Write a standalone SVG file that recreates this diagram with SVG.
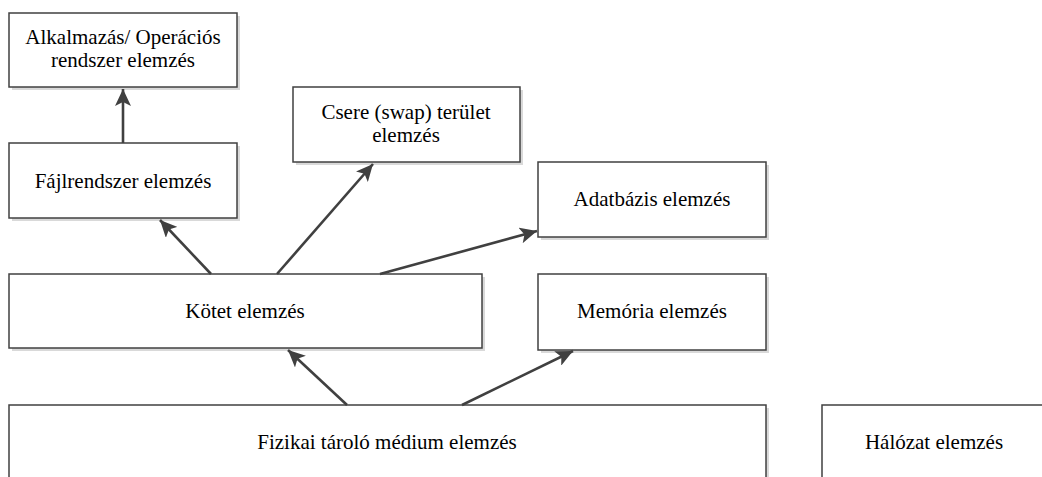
<svg xmlns="http://www.w3.org/2000/svg" width="1042" height="477" viewBox="0 0 1042 477">
  <style>
    .box { fill: #ffffff; stroke: #404040; stroke-width: 1.5; }
    .shadow { fill: #d9d9d9; }
    .label { font-family: "Liberation Serif", "Times New Roman", serif; font-size: 21px; fill: #000000; text-anchor: middle; }
    .link { stroke: #404040; stroke-width: 2.6; fill: none; marker-end: url(#head); }
  </style>
  <defs>
    <marker id="head" markerUnits="userSpaceOnUse" markerWidth="18" markerHeight="16" refX="17" refY="8" orient="auto">
      <path d="M0,0 L17,8 L0,16 L4,8 z" fill="#404040"/>
    </marker>
  </defs>
  <rect width="1042" height="477" fill="#ffffff"/>

  <g id="app-os">
    <rect class="shadow" x="12" y="16" width="228" height="74"/>
    <rect class="box" x="9" y="13" width="228" height="74"/>
    <text class="label" x="123" y="44">Alkalmazás/ Operációs</text>
    <text class="label" x="123" y="67">rendszer elemzés</text>
  </g>

  <g id="filesystem">
    <rect class="shadow" x="12" y="146" width="228" height="75"/>
    <rect class="box" x="9" y="143" width="228" height="75"/>
    <text class="label" x="123" y="188">Fájlrendszer elemzés</text>
  </g>

  <g id="swap">
    <rect class="shadow" x="296" y="90" width="227" height="75"/>
    <rect class="box" x="293" y="87" width="227" height="75"/>
    <text class="label" x="406" y="119">Csere (swap) terület</text>
    <text class="label" x="406" y="142">elemzés</text>
  </g>

  <g id="database">
    <rect class="shadow" x="541" y="165" width="228" height="75"/>
    <rect class="box" x="538" y="162" width="228" height="75"/>
    <text class="label" x="652" y="206">Adatbázis elemzés</text>
  </g>

  <g id="volume">
    <rect class="shadow" x="12" y="277" width="473" height="74"/>
    <rect class="box" x="9" y="274" width="473" height="74"/>
    <text class="label" x="245" y="318">Kötet elemzés</text>
  </g>

  <g id="memory">
    <rect class="shadow" x="541" y="277" width="228" height="76"/>
    <rect class="box" x="538" y="274" width="228" height="76"/>
    <text class="label" x="652" y="318">Memória elemzés</text>
  </g>

  <g id="physical-media">
    <rect class="shadow" x="12" y="408" width="757" height="100"/>
    <rect class="box" x="9" y="405" width="757" height="100"/>
    <text class="label" x="387" y="449">Fizikai tároló médium elemzés</text>
  </g>

  <g id="network">
    <rect class="box" x="822" y="405" width="240" height="100"/>
    <text class="label" x="934" y="449">Hálózat elemzés</text>
  </g>

  <g id="connectors">
    <line class="link" x1="123" y1="143" x2="123" y2="89"/>
    <line class="link" x1="211" y1="274" x2="160" y2="220"/>
    <line class="link" x1="277" y1="274" x2="373" y2="164"/>
    <line class="link" x1="380" y1="274" x2="537" y2="231"/>
    <line class="link" x1="347" y1="405" x2="288" y2="350"/>
    <line class="link" x1="462" y1="405" x2="573" y2="351"/>
  </g>
</svg>
